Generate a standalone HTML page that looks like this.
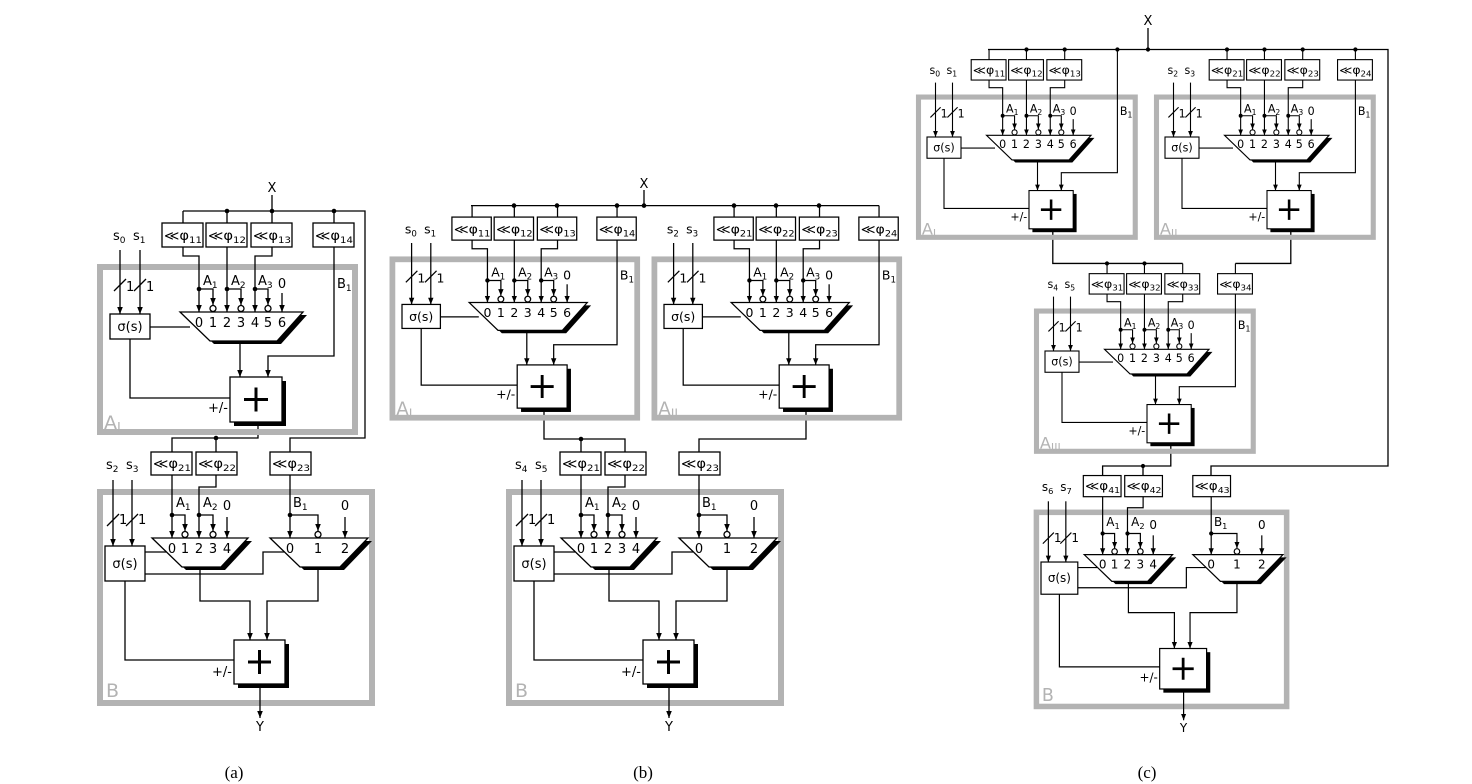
<!DOCTYPE html>
<html><head><meta charset="utf-8"><style>
html,body{margin:0;padding:0;background:#fff}
svg{display:block}
.w path,.w line{stroke:#000;fill:none;stroke-width:1.3}
.a{marker-end:url(#ar)}
text{font-family:"DejaVu Sans","Liberation Sans",sans-serif;font-size:13px;fill:#000}
.cap{font-family:"Liberation Serif",serif;font-size:17px}
.g{fill:#b3b3b3;font-size:19px}
.bx{fill:#fff;stroke:#000;stroke-width:1.3}
.gr{fill:none;stroke:#b3b3b3;stroke-width:6}
</style></head><body>
<svg width="1472" height="784" viewBox="0 0 1472 784" xmlns="http://www.w3.org/2000/svg">
<defs>
<marker id="ar" markerWidth="8" markerHeight="8" refX="7" refY="4" orient="auto" markerUnits="userSpaceOnUse"><path d="M0,1.2 L7,4 L0,6.8z" fill="#000" stroke="none"/></marker>
<g id="Ash" class="w">
<rect class="gr" x="100" y="267" width="255" height="165"/>
<rect class="bx" x="162" y="223" width="41" height="24"/>
<rect class="bx" x="206" y="223" width="41" height="24"/>
<rect class="bx" x="251" y="223" width="41" height="24"/>
<path d="M183 211V223M227 211V223M272 211V223"/>
<path class="a" d="M183 247V256H199V312"/>
<path class="a" d="M227 247V312"/>
<path class="a" d="M272 247V256H255V312"/>
<path class="a" d="M199 289H213V305"/>
<path class="a" d="M227 289H241V305"/>
<path class="a" d="M255 289H268V305"/>
<path class="a" d="M282 293V312"/>
<path class="a" d="M240 341V377"/>
<path class="a" d="M120 250V314"/>
<path class="a" d="M140 250V314"/>
<path class="a" d="M334 247V356H268V377"/>
<path d="M150 327H190M130 339V398H230M114 291L126 279M134 291L146 279"/>
<circle cx="199" cy="289" r="2.3"/><circle cx="227" cy="289" r="2.3"/><circle cx="255" cy="289" r="2.3"/>
<circle class="bx" cx="213" cy="308.5" r="3"/><circle class="bx" cx="241" cy="308.5" r="3"/><circle class="bx" cx="268" cy="308.5" r="3"/>
<polygon points="184,315 307,315 281,344 214,344" fill="#000"/>
<polygon class="bx" points="180,312 303,312 277,341 210,341"/>
<rect class="bx" x="110" y="314" width="40" height="25"/>
<rect x="234" y="381" width="52" height="45" fill="#000"/>
<rect class="bx" x="230" y="377" width="52" height="45"/>
<path d="M244 399.5H268M256 387.5V411.5" style="stroke-width:3"/>
</g>
<g id="P14" class="w"><rect class="bx" x="313" y="223" width="41" height="24"/><path d="M334 211V223"/></g>
<g id="Bsh" class="w">
<rect class="gr" x="100" y="492" width="272" height="211"/>
<rect class="bx" x="151" y="452" width="41" height="23"/>
<rect class="bx" x="196" y="452" width="41" height="23"/>
<rect class="bx" x="270" y="452" width="41" height="23"/>
<path class="a" d="M172 475V538"/>
<path class="a" d="M216 475V487H199V538"/>
<path class="a" d="M172 515H185V531"/>
<path class="a" d="M199 515H213V531"/>
<path class="a" d="M227 517V538"/>
<path class="a" d="M290 475V538"/>
<path class="a" d="M290 515H318V531"/>
<path class="a" d="M345 517V538"/>
<path class="a" d="M113 480V546"/>
<path class="a" d="M132 480V546"/>
<path class="a" d="M200 567V601H250V640"/>
<path class="a" d="M318 567V601H267V640"/>
<path class="a" d="M260 684V718"/>
<path d="M145 552H166M145 574H263V552H284M125 581V660H234M107 526L119 514M126 526L138 514"/>
<circle cx="172" cy="515" r="2.3"/><circle cx="199" cy="515" r="2.3"/><circle cx="290" cy="515" r="2.3"/>
<circle class="bx" cx="185" cy="534.5" r="3"/><circle class="bx" cx="213" cy="534.5" r="3"/><circle class="bx" cx="318" cy="534.5" r="3"/>
<polygon points="156,541 252,541 225,570 186,570" fill="#000"/>
<polygon class="bx" points="152,538 248,538 221,567 182,567"/>
<polygon points="274,541 372,541 344,570 304,570" fill="#000"/>
<polygon class="bx" points="270,538 368,538 340,567 300,567"/>
<rect class="bx" x="105" y="546" width="40" height="35"/>
<rect x="238" y="644" width="51" height="44" fill="#000"/>
<rect class="bx" x="234" y="640" width="51" height="44"/>
<path d="M248 662H271M259.5 650V674" style="stroke-width:3"/>
</g>
</defs>

<!-- ===== (a) ===== -->
<g class="w">
<path d="M272 195V211M183 211H365V438H290V452M258 422V438H172V452M216 438V452"/>
<circle cx="227" cy="211" r="2.3"/><circle cx="272" cy="211" r="2.3"/><circle cx="334" cy="211" r="2.3"/><circle cx="216" cy="438" r="2.3"/>
</g>
<text x="272" y="192" text-anchor="middle">X</text>
<g>
<use href="#Ash"/><use href="#P14"/>
<text x="113" y="240">s<tspan font-size="9" dy="3">0</tspan></text>
<text x="133" y="240">s<tspan font-size="9" dy="3">1</tspan></text>
<text x="126" y="291">1</text><text x="146" y="291">1</text>
<text x="164" y="240" textLength="38" lengthAdjust="spacingAndGlyphs">≪φ<tspan font-size="9" dy="3">11</tspan></text>
<text x="208" y="240" textLength="38" lengthAdjust="spacingAndGlyphs">≪φ<tspan font-size="9" dy="3">12</tspan></text>
<text x="253" y="240" textLength="38" lengthAdjust="spacingAndGlyphs">≪φ<tspan font-size="9" dy="3">13</tspan></text>
<text x="315" y="240" textLength="38" lengthAdjust="spacingAndGlyphs">≪φ<tspan font-size="9" dy="3">14</tspan></text>
<text x="203" y="285">A<tspan font-size="9" dy="3">1</tspan></text>
<text x="231" y="285">A<tspan font-size="9" dy="3">2</tspan></text>
<text x="258" y="285">A<tspan font-size="9" dy="3">3</tspan></text>
<text x="282" y="288" text-anchor="middle">0</text>
<text x="337" y="288">B<tspan font-size="9" dy="3">1</tspan></text>
<text x="199 213 227 241 255 268 282" y="327" text-anchor="middle">0123456</text>
<text x="130" y="331" text-anchor="middle">σ(s)</text>
<text x="228" y="412" text-anchor="end" font-size="12">+/-</text>
<text class="g" x="104" y="429">A<tspan font-size="13" dy="3">I</tspan></text>
</g>
<g>
<use href="#Bsh"/>
<text x="106" y="469">s<tspan font-size="9" dy="3">2</tspan></text>
<text x="126" y="469">s<tspan font-size="9" dy="3">3</tspan></text>
<text x="119" y="524">1</text><text x="138" y="524">1</text>
<text x="153" y="468" textLength="38" lengthAdjust="spacingAndGlyphs">≪φ<tspan font-size="9" dy="3">21</tspan></text>
<text x="198" y="468" textLength="38" lengthAdjust="spacingAndGlyphs">≪φ<tspan font-size="9" dy="3">22</tspan></text>
<text x="272" y="468" textLength="38" lengthAdjust="spacingAndGlyphs">≪φ<tspan font-size="9" dy="3">23</tspan></text>
<text x="176" y="507">A<tspan font-size="9" dy="3">1</tspan></text>
<text x="203" y="507">A<tspan font-size="9" dy="3">2</tspan></text>
<text x="227" y="510" text-anchor="middle">0</text>
<text x="293" y="507">B<tspan font-size="9" dy="3">1</tspan></text>
<text x="345" y="510" text-anchor="middle">0</text>
<text x="172 185 199 213 227" y="553" text-anchor="middle">01234</text>
<text x="290 318 345" y="553" text-anchor="middle">012</text>
<text x="125" y="568" text-anchor="middle">σ(s)</text>
<text x="232" y="676" text-anchor="end" font-size="12">+/-</text>
<text class="g" x="106" y="697">B</text>
<text x="260" y="731" text-anchor="middle">Y</text>
</g>
<text class="cap" x="234" y="778" text-anchor="middle">(a)</text>

<!-- ===== (b) ===== -->
<g class="w">
<path d="M644 190V205.6M471 205.6H879M544 408V439H625V452M581 439V452M806 408V439H699V452"/>
<circle cx="514" cy="205.6" r="2.3"/><circle cx="557" cy="205.6" r="2.3"/><circle cx="617" cy="205.6" r="2.3"/><circle cx="644" cy="205.6" r="2.3"/>
<circle cx="734" cy="205.6" r="2.3"/><circle cx="776" cy="205.6" r="2.3"/><circle cx="819" cy="205.6" r="2.3"/><circle cx="581" cy="439" r="2.3"/>
</g>
<text x="644" y="188" text-anchor="middle">X</text>
<g transform="matrix(0.96,0,0,0.96,296.4,3)">
<use href="#Ash"/><use href="#P14"/>
<text x="113" y="240">s<tspan font-size="9" dy="3">0</tspan></text>
<text x="133" y="240">s<tspan font-size="9" dy="3">1</tspan></text>
<text x="126" y="291">1</text><text x="146" y="291">1</text>
<text x="164" y="240" textLength="38" lengthAdjust="spacingAndGlyphs">≪φ<tspan font-size="9" dy="3">11</tspan></text>
<text x="208" y="240" textLength="38" lengthAdjust="spacingAndGlyphs">≪φ<tspan font-size="9" dy="3">12</tspan></text>
<text x="253" y="240" textLength="38" lengthAdjust="spacingAndGlyphs">≪φ<tspan font-size="9" dy="3">13</tspan></text>
<text x="315" y="240" textLength="38" lengthAdjust="spacingAndGlyphs">≪φ<tspan font-size="9" dy="3">14</tspan></text>
<text x="203" y="285">A<tspan font-size="9" dy="3">1</tspan></text>
<text x="231" y="285">A<tspan font-size="9" dy="3">2</tspan></text>
<text x="258" y="285">A<tspan font-size="9" dy="3">3</tspan></text>
<text x="282" y="288" text-anchor="middle">0</text>
<text x="337" y="288">B<tspan font-size="9" dy="3">1</tspan></text>
<text x="199 213 227 241 255 268 282" y="327" text-anchor="middle">0123456</text>
<text x="130" y="331" text-anchor="middle">σ(s)</text>
<text x="228" y="412" text-anchor="end" font-size="12">+/-</text>
<text class="g" x="104" y="429">A<tspan font-size="13" dy="3">I</tspan></text>
</g>
<g transform="matrix(0.96,0,0,0.96,558.4,3)">
<use href="#Ash"/><use href="#P14"/>
<text x="113" y="240">s<tspan font-size="9" dy="3">2</tspan></text>
<text x="133" y="240">s<tspan font-size="9" dy="3">3</tspan></text>
<text x="126" y="291">1</text><text x="146" y="291">1</text>
<text x="164" y="240" textLength="38" lengthAdjust="spacingAndGlyphs">≪φ<tspan font-size="9" dy="3">21</tspan></text>
<text x="208" y="240" textLength="38" lengthAdjust="spacingAndGlyphs">≪φ<tspan font-size="9" dy="3">22</tspan></text>
<text x="253" y="240" textLength="38" lengthAdjust="spacingAndGlyphs">≪φ<tspan font-size="9" dy="3">23</tspan></text>
<text x="315" y="240" textLength="38" lengthAdjust="spacingAndGlyphs">≪φ<tspan font-size="9" dy="3">24</tspan></text>
<text x="203" y="285">A<tspan font-size="9" dy="3">1</tspan></text>
<text x="231" y="285">A<tspan font-size="9" dy="3">2</tspan></text>
<text x="258" y="285">A<tspan font-size="9" dy="3">3</tspan></text>
<text x="282" y="288" text-anchor="middle">0</text>
<text x="337" y="288">B<tspan font-size="9" dy="3">1</tspan></text>
<text x="199 213 227 241 255 268 282" y="327" text-anchor="middle">0123456</text>
<text x="130" y="331" text-anchor="middle">σ(s)</text>
<text x="228" y="412" text-anchor="end" font-size="12">+/-</text>
<text class="g" x="104" y="429">A<tspan font-size="13" dy="3">II</tspan></text>
</g>
<g transform="translate(409,0)">
<use href="#Bsh"/>
<text x="106" y="469">s<tspan font-size="9" dy="3">4</tspan></text>
<text x="126" y="469">s<tspan font-size="9" dy="3">5</tspan></text>
<text x="119" y="524">1</text><text x="138" y="524">1</text>
<text x="153" y="468" textLength="38" lengthAdjust="spacingAndGlyphs">≪φ<tspan font-size="9" dy="3">21</tspan></text>
<text x="198" y="468" textLength="38" lengthAdjust="spacingAndGlyphs">≪φ<tspan font-size="9" dy="3">22</tspan></text>
<text x="272" y="468" textLength="38" lengthAdjust="spacingAndGlyphs">≪φ<tspan font-size="9" dy="3">23</tspan></text>
<text x="176" y="507">A<tspan font-size="9" dy="3">1</tspan></text>
<text x="203" y="507">A<tspan font-size="9" dy="3">2</tspan></text>
<text x="227" y="510" text-anchor="middle">0</text>
<text x="293" y="507">B<tspan font-size="9" dy="3">1</tspan></text>
<text x="345" y="510" text-anchor="middle">0</text>
<text x="172 185 199 213 227" y="553" text-anchor="middle">01234</text>
<text x="290 318 345" y="553" text-anchor="middle">012</text>
<text x="125" y="568" text-anchor="middle">σ(s)</text>
<text x="232" y="676" text-anchor="end" font-size="12">+/-</text>
<text class="g" x="106" y="697">B</text>
<text x="260" y="731" text-anchor="middle">Y</text>
</g>
<text class="cap" x="643" y="778" text-anchor="middle">(b)</text>

<!-- ===== (c) ===== -->
<g class="w">
<path d="M1148 28V49.5M988 49.5H1388V466H1211V475.5M1052.8 228.8V263.45H1182.7M1290.8 228.8V263.45H1235.4M1170.8 442.8V466H1102.6V475.5M1143 466V475.5"/>
<circle cx="1026.5" cy="49.5" r="2.1"/><circle cx="1064.7" cy="49.5" r="2.1"/><circle cx="1117.4" cy="49.5" r="2.1"/><circle cx="1148" cy="49.5" r="2.1"/>
<circle cx="1227" cy="49.5" r="2.1"/><circle cx="1264.5" cy="49.5" r="2.1"/><circle cx="1302.7" cy="49.5" r="2.1"/><circle cx="1355.4" cy="49.5" r="2.1"/>
<circle cx="1107" cy="263.45" r="2.1"/><circle cx="1144.5" cy="263.45" r="2.1"/><circle cx="1143" cy="466" r="2.1"/>
</g>
<text x="1148" y="25" text-anchor="middle">X</text>
<g transform="matrix(0.85,0,0,0.85,833.5,-129.9)">
<use href="#Ash"/>
<g class="w"><path d="M334 211V247"/></g>
<text x="113" y="240">s<tspan font-size="9" dy="3">0</tspan></text>
<text x="133" y="240">s<tspan font-size="9" dy="3">1</tspan></text>
<text x="126" y="291">1</text><text x="146" y="291">1</text>
<text x="164" y="240" textLength="38" lengthAdjust="spacingAndGlyphs">≪φ<tspan font-size="9" dy="3">11</tspan></text>
<text x="208" y="240" textLength="38" lengthAdjust="spacingAndGlyphs">≪φ<tspan font-size="9" dy="3">12</tspan></text>
<text x="253" y="240" textLength="38" lengthAdjust="spacingAndGlyphs">≪φ<tspan font-size="9" dy="3">13</tspan></text>
<text x="203" y="285">A<tspan font-size="9" dy="3">1</tspan></text>
<text x="231" y="285">A<tspan font-size="9" dy="3">2</tspan></text>
<text x="258" y="285">A<tspan font-size="9" dy="3">3</tspan></text>
<text x="282" y="288" text-anchor="middle">0</text>
<text x="337" y="288">B<tspan font-size="9" dy="3">1</tspan></text>
<text x="199 213 227 241 255 268 282" y="327" text-anchor="middle">0123456</text>
<text x="130" y="331" text-anchor="middle">σ(s)</text>
<text x="228" y="412" text-anchor="end" font-size="12">+/-</text>
<text class="g" x="104" y="429">A<tspan font-size="13" dy="3">I</tspan></text>
</g>
<g transform="matrix(0.85,0,0,0.85,1071.5,-129.9)">
<use href="#Ash"/><use href="#P14"/>
<text x="113" y="240">s<tspan font-size="9" dy="3">2</tspan></text>
<text x="133" y="240">s<tspan font-size="9" dy="3">3</tspan></text>
<text x="126" y="291">1</text><text x="146" y="291">1</text>
<text x="164" y="240" textLength="38" lengthAdjust="spacingAndGlyphs">≪φ<tspan font-size="9" dy="3">21</tspan></text>
<text x="208" y="240" textLength="38" lengthAdjust="spacingAndGlyphs">≪φ<tspan font-size="9" dy="3">22</tspan></text>
<text x="253" y="240" textLength="38" lengthAdjust="spacingAndGlyphs">≪φ<tspan font-size="9" dy="3">23</tspan></text>
<text x="315" y="240" textLength="38" lengthAdjust="spacingAndGlyphs">≪φ<tspan font-size="9" dy="3">24</tspan></text>
<text x="203" y="285">A<tspan font-size="9" dy="3">1</tspan></text>
<text x="231" y="285">A<tspan font-size="9" dy="3">2</tspan></text>
<text x="258" y="285">A<tspan font-size="9" dy="3">3</tspan></text>
<text x="282" y="288" text-anchor="middle">0</text>
<text x="337" y="288">B<tspan font-size="9" dy="3">1</tspan></text>
<text x="199 213 227 241 255 268 282" y="327" text-anchor="middle">0123456</text>
<text x="130" y="331" text-anchor="middle">σ(s)</text>
<text x="228" y="412" text-anchor="end" font-size="12">+/-</text>
<text class="g" x="104" y="429">A<tspan font-size="13" dy="3">II</tspan></text>
</g>
<g transform="matrix(0.85,0,0,0.85,951.5,84.1)">
<use href="#Ash"/><use href="#P14"/>
<text x="113" y="240">s<tspan font-size="9" dy="3">4</tspan></text>
<text x="133" y="240">s<tspan font-size="9" dy="3">5</tspan></text>
<text x="126" y="291">1</text><text x="146" y="291">1</text>
<text x="164" y="240" textLength="38" lengthAdjust="spacingAndGlyphs">≪φ<tspan font-size="9" dy="3">31</tspan></text>
<text x="208" y="240" textLength="38" lengthAdjust="spacingAndGlyphs">≪φ<tspan font-size="9" dy="3">32</tspan></text>
<text x="253" y="240" textLength="38" lengthAdjust="spacingAndGlyphs">≪φ<tspan font-size="9" dy="3">33</tspan></text>
<text x="315" y="240" textLength="38" lengthAdjust="spacingAndGlyphs">≪φ<tspan font-size="9" dy="3">34</tspan></text>
<text x="203" y="285">A<tspan font-size="9" dy="3">1</tspan></text>
<text x="231" y="285">A<tspan font-size="9" dy="3">2</tspan></text>
<text x="258" y="285">A<tspan font-size="9" dy="3">3</tspan></text>
<text x="282" y="288" text-anchor="middle">0</text>
<text x="337" y="288">B<tspan font-size="9" dy="3">1</tspan></text>
<text x="199 213 227 241 255 268 282" y="327" text-anchor="middle">0123456</text>
<text x="130" y="331" text-anchor="middle">σ(s)</text>
<text x="228" y="412" text-anchor="end" font-size="12">+/-</text>
<text class="g" x="104" y="429">A<tspan font-size="13" dy="3">III</tspan></text>
</g>
<g transform="matrix(0.92,0,0,0.92,944.4,59.7)">
<use href="#Bsh"/>
<text x="106" y="469">s<tspan font-size="9" dy="3">6</tspan></text>
<text x="126" y="469">s<tspan font-size="9" dy="3">7</tspan></text>
<text x="119" y="524">1</text><text x="138" y="524">1</text>
<text x="153" y="468" textLength="38" lengthAdjust="spacingAndGlyphs">≪φ<tspan font-size="9" dy="3">41</tspan></text>
<text x="198" y="468" textLength="38" lengthAdjust="spacingAndGlyphs">≪φ<tspan font-size="9" dy="3">42</tspan></text>
<text x="272" y="468" textLength="38" lengthAdjust="spacingAndGlyphs">≪φ<tspan font-size="9" dy="3">43</tspan></text>
<text x="176" y="507">A<tspan font-size="9" dy="3">1</tspan></text>
<text x="203" y="507">A<tspan font-size="9" dy="3">2</tspan></text>
<text x="227" y="510" text-anchor="middle">0</text>
<text x="293" y="507">B<tspan font-size="9" dy="3">1</tspan></text>
<text x="345" y="510" text-anchor="middle">0</text>
<text x="172 185 199 213 227" y="553" text-anchor="middle">01234</text>
<text x="290 318 345" y="553" text-anchor="middle">012</text>
<text x="125" y="568" text-anchor="middle">σ(s)</text>
<text x="232" y="676" text-anchor="end" font-size="12">+/-</text>
<text class="g" x="106" y="697">B</text>
<text x="260" y="731" text-anchor="middle">Y</text>
</g>
<text class="cap" x="1147" y="778" text-anchor="middle">(c)</text>
</svg>
</body></html>
